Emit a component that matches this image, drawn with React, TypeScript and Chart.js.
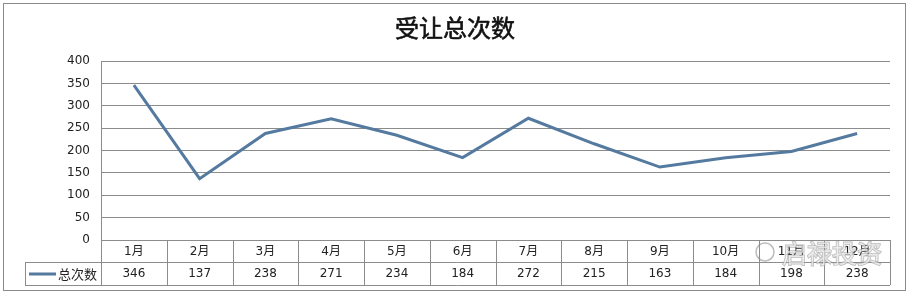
import React, { useEffect, useRef } from "react";
import { Chart, registerables } from "chart.js";

Chart.register(...registerables);

const title = "受让总次数";
const seriesName = "总次数";
const months = ["1月", "2月", "3月", "4月", "5月", "6月", "7月", "8月", "9月", "10月", "11月", "12月"];
const totals = [346, 137, 238, 271, 234, 184, 272, 215, 163, 184, 198, 238];
const yTicks = [0, 50, 100, 150, 200, 250, 300, 350, 400];
const watermark = "启禄投资";

const LINE_COLOR = "#557a9f";
const GRID_COLOR = "#8c8c8c";
const TEXT_FONT = "'DejaVu Sans', 'Noto Sans CJK SC', sans-serif";
const CJK_FONT = "'Noto Sans CJK SC', sans-serif";

// Draws the title, the outer frame and the Excel-style data table under the plot
const tablePlugin = {
  id: "dataTable",
  afterDraw(chart: any) {
    const { ctx, chartArea, scales } = chart;
    const x = scales.x;
    const left = chartArea.left;
    const right = chartArea.right;
    const row1Top = chartArea.bottom;
    const row2Top = row1Top + 22;
    const row2Bottom = row2Top + 23;
    const legendLeft = 25;
    const n = months.length;
    const step = (right - left) / n;

    ctx.save();

    // outer frame of the chart object
    ctx.strokeStyle = "#8a8a8a";
    ctx.lineWidth = 1;
    ctx.strokeRect(3.5, 3.5, 902, 287);

    // title
    ctx.fillStyle = "#111";
    ctx.strokeStyle = "#111";
    ctx.lineWidth = 0.6;
    ctx.font = `24px ${CJK_FONT}`;
    ctx.textAlign = "center";
    ctx.textBaseline = "middle";
    ctx.fillText(title, 455, 28);
    ctx.strokeText(title, 455, 28);

    // table lines
    ctx.strokeStyle = GRID_COLOR;
    ctx.lineWidth = 1;
    ctx.beginPath();
    ctx.moveTo(left, row1Top + 0.5);
    ctx.lineTo(right, row1Top + 0.5);
    ctx.moveTo(legendLeft, row2Top + 0.5);
    ctx.lineTo(right, row2Top + 0.5);
    ctx.moveTo(legendLeft, row2Bottom + 0.5);
    ctx.lineTo(right, row2Bottom + 0.5);
    ctx.moveTo(legendLeft + 0.5, row2Top);
    ctx.lineTo(legendLeft + 0.5, row2Bottom);
    for (let i = 0; i <= n; i++) {
      const cx = Math.round(left + i * step) + 0.5;
      ctx.moveTo(cx, i === 0 ? chartArea.top : row1Top);
      ctx.lineTo(cx, row2Bottom);
    }
    ctx.stroke();

    // month labels and values, centred on each category
    ctx.fillStyle = "#222";
    ctx.font = `12px ${TEXT_FONT}`;
    ctx.textAlign = "center";
    ctx.textBaseline = "middle";
    months.forEach((m, i) => {
      const cx = x.getPixelForValue(i);
      ctx.fillText(m, cx, row1Top + 11.5);
      ctx.fillText(String(totals[i]), cx, row2Top + 12);
    });

    // legend key in the first cell of the value row
    const keyY = row2Top + 12;
    ctx.strokeStyle = LINE_COLOR;
    ctx.lineWidth = 3;
    ctx.beginPath();
    ctx.moveTo(29, keyY);
    ctx.lineTo(56, keyY);
    ctx.stroke();
    ctx.fillStyle = "#222";
    ctx.font = `13px ${CJK_FONT}`;
    ctx.textAlign = "left";
    ctx.fillText(seriesName, 58, keyY);

    // faint account watermark in the lower right
    ctx.globalAlpha = 0.6;
    ctx.font = `25px ${CJK_FONT}`;
    ctx.textAlign = "left";
    ctx.lineWidth = 1.5;
    ctx.strokeStyle = "#8f8f8f";
    ctx.fillStyle = "#ffffff";
    ctx.strokeText(watermark, 782, 253);
    ctx.fillText(watermark, 782, 253);
    ctx.beginPath();
    ctx.arc(765, 252, 9, 0, Math.PI * 2);
    ctx.stroke();
    ctx.restore();
  },
};

export default function App() {
  const canvasRef = useRef<HTMLCanvasElement | null>(null);

  useEffect(() => {
    document.body.style.margin = "0";
    const canvas = canvasRef.current;
    if (!canvas) return;
    const chart = new Chart(canvas, {
      type: "line",
      data: {
        labels: months,
        datasets: [
          {
            label: seriesName,
            data: totals,
            borderColor: LINE_COLOR,
            backgroundColor: LINE_COLOR,
            borderWidth: 3,
            pointRadius: 0,
            tension: 0,
          },
        ],
      },
      options: {
        responsive: false,
        animation: false,
        devicePixelRatio: 1,
        layout: { padding: { left: 0, right: 20, top: 61, bottom: 55 } },
        plugins: {
          legend: { display: false },
          title: { display: false },
          tooltip: { enabled: false },
        },
        scales: {
          x: {
            type: "category",
            offset: true,
            display: false,
          },
          y: {
            min: 0,
            max: 400,
            afterBuildTicks: (scale: any) => {
              scale.ticks = yTicks.map((v) => ({ value: v }));
            },
            afterFit: (scale: any) => {
              scale.width = 101;
            },
            border: { display: true, color: GRID_COLOR, width: 1 },
            grid: {
              color: GRID_COLOR,
              lineWidth: 1,
              drawTicks: false,
            },
            ticks: {
              padding: 11,
              color: "#222",
              font: { family: TEXT_FONT, size: 12 },
            },
          },
        },
      },
      plugins: [tablePlugin],
    });
    return () => chart.destroy();
  }, []);

  return (
    <div style={{ position: "absolute", left: 0, top: 0, width: 910, height: 295, background: "#fff" }}>
      <canvas ref={canvasRef} width={910} height={295} />
    </div>
  );
}
